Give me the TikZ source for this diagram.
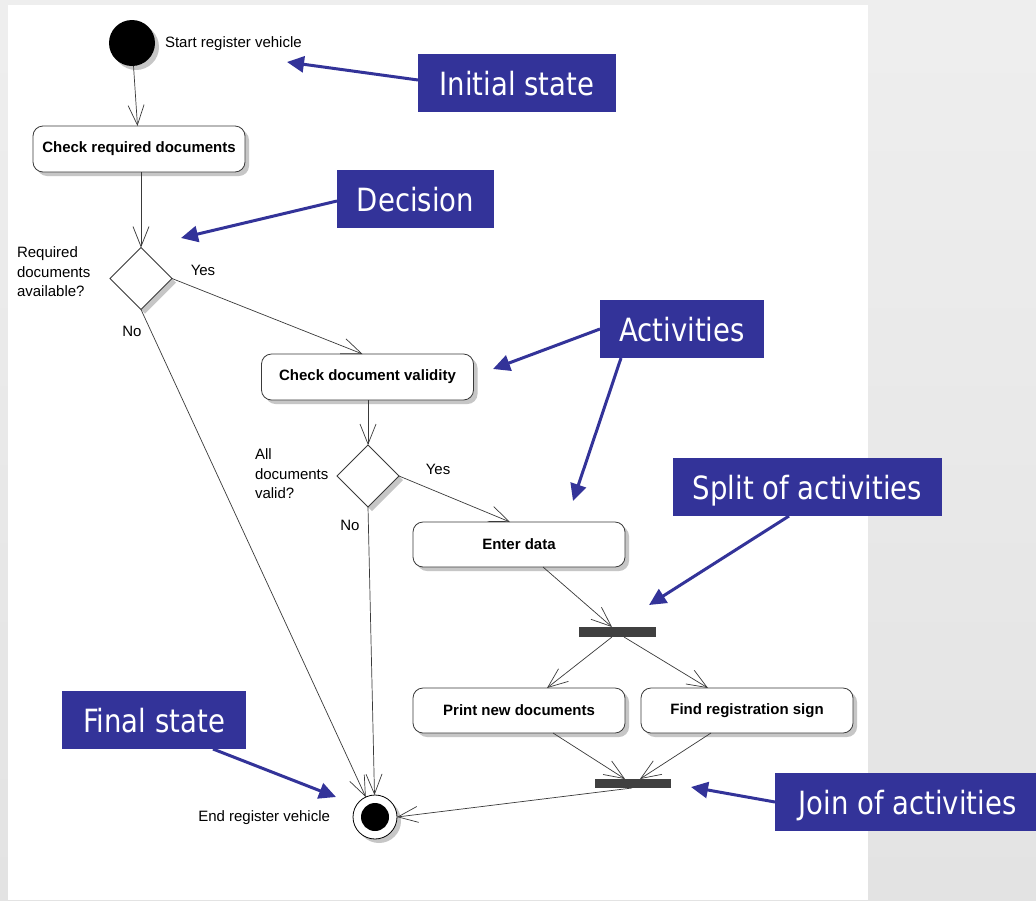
\documentclass[tikz,border=0pt]{standalone}
\usepackage{fontspec}
\setmainfont{Liberation Sans}
\newfontfamily\calloutfont[FakeStretch=0.86]{DejaVu Sans}
\usetikzlibrary{arrows.meta,shapes.geometric,shadows,calc}
\definecolor{callout}{HTML}{333399}
\definecolor{wire}{HTML}{3A3A3A}
\definecolor{barfill}{HTML}{404040}
\definecolor{shadowgray}{HTML}{C6C6C6}

\begin{document}
\begin{tikzpicture}[x=1pt,y=-1pt,
  every node/.style={inner sep=0pt, outer sep=0pt},
  shade3/.style={drop shadow={shadow xshift=4pt, shadow yshift=-4pt, fill=shadowgray, opacity=1}},
  lbl/.style={font=\fontsize{15}{19.5}\selectfont, align=left},
  act/.style={draw=wire, line width=0.8pt, fill=white, rounded corners=10pt,
    minimum width=212pt, minimum height=46pt,
    font=\bfseries\fontsize{15}{18}\selectfont, shade3},
  decision/.style={diamond, aspect=1, draw=wire, line width=0.8pt, fill=white,
    minimum width=62pt, minimum height=62pt, shade3},
  syncbar/.style={fill=barfill, minimum height=10pt},
  flow/.style={draw=wire, line width=0.7pt, -{Straight Barb[length=20pt,width=16pt]}},
  callout/.style={fill=callout, text=white, minimum height=58pt,
    text height=24pt, text depth=0pt,
    font=\calloutfont\fontsize{32}{36}\selectfont},
  callarrow/.style={draw=callout, line width=3pt, -{Triangle[length=17pt,width=16pt]}}
]
\useasboundingbox (0,0) rectangle (1036,900);

% page background and white sheet
\shade[top color=gray!13, bottom color=gray!22] (0,0) rectangle (1036,900);
\fill[white] (8,5) rectangle (868,900);

% start and end states
\node[circle, fill=black, minimum size=46pt, shade3] (init) at (132,43) {};
\node[circle, draw=black, line width=0.8pt, fill=white, minimum size=44pt, shade3] (fin) at (375,817) {};
\node[circle, fill=black, minimum size=28pt] (findot) at (fin) {};

% activities
\node[act] (box1) at (139,149) {Check required documents};
\node[act] (box2) at (367.5,377) {Check document validity};
\node[act, minimum height=45pt] (enter) at (519,544.5) {Enter data};
\node[act, minimum height=45pt] (print) at (519,710.5) {Print new documents};
\node[act, minimum height=45pt] (find) at (747,710.5) {Find registration sign};

% decisions
\node[decision] (d1) at (141,278.5) {};
\node[decision] (d2) at (368,476) {};

% fork and join bars
\node[syncbar, minimum width=77pt] (fork) at (617.5,632) {};
\node[syncbar, minimum width=76pt, minimum height=9pt] (join) at (633,783.5) {};

% texts
\node[lbl, anchor=west] (startlbl) at (165,44) {Start register vehicle};
\node[lbl, anchor=west] (q1) at (17,272) {Required\\documents\\available?};
\node[lbl] (yes1) at (203,270) {Yes};
\node[lbl] (no1) at (132,331) {No};
\node[lbl, anchor=west] (q2) at (255,474) {All\\documents\\valid?};
\node[lbl] (yes2) at (438,469) {Yes};
\node[lbl] (no2) at (350,525) {No};
\node[lbl, anchor=east] (endlbl) at (330,818) {End register vehicle};

% transitions
\draw[flow] (init) -- (box1);
\draw[flow] (box1.south -| d1.north) -- (d1.north);
\draw[flow] (d1.east) -- ([xshift=-5pt]box2.north);
\draw[flow] (d1.south) -- (fin);
\draw[flow] (box2.south -| d2.north) -- (d2.north);
\draw[flow] (d2.east) -- ([xshift=-9pt]enter.north);
\draw[flow] (d2.south) -- (fin);
\draw[flow] ([xshift=24pt]enter.south) -- ([xshift=-5.5pt]fork.north);
\draw[flow] ([xshift=-5.5pt]fork.south) -- ([xshift=28pt]print.north);
\draw[flow] ([xshift=6.5pt]fork.south) -- ([xshift=-39pt]find.north);
\draw[flow] ([xshift=34pt]print.south) -- ([xshift=-8pt]join.north);
\draw[flow] ([xshift=-36pt]find.south) -- ([xshift=7pt]join.north);
\draw[flow] ([xshift=-1pt]join.south) -- (fin.east);

% callouts
\node[callout, minimum width=198pt] (cInit) at (517,83) {Initial state};
\node[callout, minimum width=157pt] (cDec) at (415.5,199) {Decision};
\node[callout, minimum width=164pt] (cAct) at (682,329) {Activities};
\node[callout, minimum width=269pt] (cSplit) at (807.5,487) {Split of activities};
\node[callout, minimum width=184pt] (cFinal) at (154,720) {Final state};
\node[callout, minimum width=265pt] (cJoin) at (907.5,802) {Join of activities};

\coordinate (tInit) at (287,62);
\coordinate (tDec) at (181,238);
\coordinate (tAct1) at (493,369);
\coordinate (tAct2) at (573,501);
\coordinate (tSplit) at (649,605);
\coordinate (tFinal) at (336,797);
\coordinate (tJoin) at (691,787);

\draw[callarrow] ([yshift=3pt]cInit.west) -- (tInit);
\draw[callarrow] ([yshift=-2pt]cDec.west) -- (tDec);
\draw[callarrow] (cAct.west) -- (tAct1);
\draw[callarrow] ([xshift=21pt]cAct.south west) -- (tAct2);
\draw[callarrow] ([xshift=-18.5pt]cSplit.south) -- (tSplit);
\draw[callarrow] ([xshift=59pt]cFinal.south) -- (tFinal);
\draw[callarrow] (cJoin.west) -- (tJoin);
\end{tikzpicture}
\end{document}
